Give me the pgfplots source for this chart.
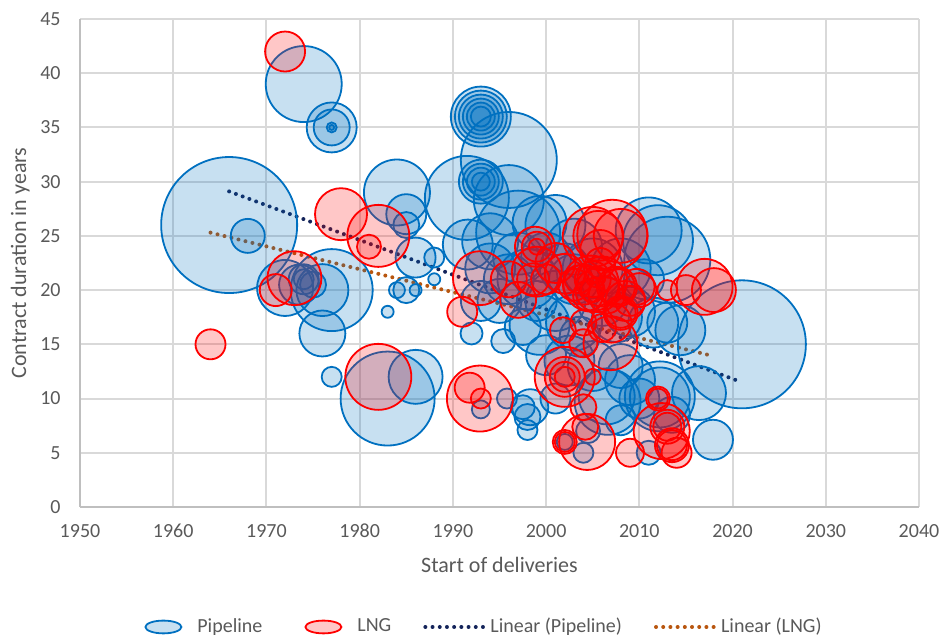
\documentclass[border=0pt]{standalone}
\usepackage{fontspec}
\setmainfont{Carlito}
\usepackage{pgfplots}
\pgfplotsset{compat=1.18}
\usepackage{pgfplotstable}
\definecolor{pipeedge}{HTML}{0070C0}
\definecolor{lngedge}{HTML}{FF0000}
\definecolor{trendpipe}{HTML}{14245A}
\definecolor{trendlng}{HTML}{B8560F}
\definecolor{txt}{HTML}{595959}
\definecolor{gridc}{HTML}{D9D9D9}
\definecolor{axc}{HTML}{BFBFBF}

\pgfplotstableread{
x y r
1966 26 68
1968 25 17
1974 39 38
1977 35 25
1977 35 18
1977 35 5
1977 35 2.5
1972 20.2 28
1973.5 20.5 20
1974 21 15
1974 21 10
1975 20.5 13
1977 20 41
1976 20 26
1976 16 23
1977 12 10
1983 10 47
1986 12 27
1984 29 33
1985 27 20
1985 26 13
1986 23 20
1988 23 10
1988 21 6
1983 18 6
1984 20 8
1985 20 13
1986 20 6
1991.5 28.5 42
1993 30 22
1993 30 18
1993 30 14
1993 30 9
1993 36 30
1993 36 26
1993 36 22
1993 36 18
1993 36 14
1993 36 10
1996 32 48
1996 28.3 35
1997 25.3 42
1994 24.5 28
1991.6 24.2 25
1999.3 26.2 27
2001 26 30
2003 24 28
2000 23 25
1997 23 25
1994 22 25
1998 21 30
1996 21 25
1995 19 22
1993 19 20
1999 19 20
2002 22 25
2001 19 30
2003 21 25
2005 22 30
2006 19 25
2008 22 30
2009 18 25
2010.5 21 20
2011 25.5 33
2012 24.6 35
2013 22.8 43
2011.5 17 25
2013 17 20
2014.4 16.3 25
2007.6 17.5 25
2003 17 28
2003.6 15.7 20
1999.3 16.8 30
1997.5 16.6 18
1995.4 15.3 12
1992 16 11
2000 14 20
2002.5 13.5 25
2005 13 25
2008 13 22
2009 11.7 25
2006.6 9.7 33
2006.5 10.2 28
2010 10 20
2012.2 10.1 30
2012.2 10.2 35
2008 8 15
2013.5 8.5 18
2016.4 10.5 27
2017.9 6.2 20
2011 5 12
2004.5 7 12
2004 5 10
2002 6 8
2001 10 15
1998.3 9.2 18
1997.5 9.2 12
1998 8.3 13
1998 7.1 10
1995.8 10 10
1993 9 9
2021 15 64
}\pipeline

\pgfplotstableread{
x y r
1972 42 20
1978 27 26
1982 25 31
1981 24 12
1971 20 16
1973 21.1 27
1964 15 15
1982 12 33
1991 18 15
1992.9 21.1 27
1996 21 18
1997 19.1 18
1998.6 21 16
1999 21.7 25
1998.8 24 20
1999 24 15
1999 24 8
2000 21 15
2001 22.5 20
2002 21.5 20
2003 20.5 16
2003.5 21 14
2004 20.5 20
2004.8 20.6 28
2005 21 18
2005 20 12
2005.3 21.2 10
2005.5 20 22
2006 20.8 25
2006.5 19.5 18
2004.5 19.5 15
2007.6 20.3 20
2007.6 20.3 18
2008.5 19 20
2009.7 20.3 18
2010 20 17
2009 19 15
2008 17.9 17
2008 17.9 15
2007 17 20
2006 16.5 14
2004 17 13
2005.8 22.5 15
2005.8 23.7 20
2005 24.9 30
2005.6 25 25
2007.1 25.1 35
2008 25 27
2001.8 16.3 13
2004 15.1 14
2006.9 15.1 27
2002 12 30
2002 12 20
2002 12 15
2002 12 10
2005 12 8
1992.9 10 33
1991.8 11 15
1993 10 10
2004.4 6 28
2004.2 7.4 13
2004 9.2 13
2002 6 12
2002 6 10
2009 5 14
2012.4 7 28
2013 7.4 17
2013 7.4 14
2013.5 5.7 17
2013.5 5.7 15
2014 5 15
2012 10 12
2012 10 10
2013 20 10
2015 20 15
2017 20.3 28
2018 20 22
}\lng

\begin{document}
\begin{tikzpicture}
\begin{axis}[
  scale only axis,
  width=419.5pt, height=244pt,
  xmin=1950, xmax=2040, ymin=0, ymax=45,
  xtick distance=10, ytick distance=5,
  axis lines=left,
  axis line style={draw=axc, line width=1pt, -},
  grid=major,
  grid style={draw=gridc, line width=1pt},
  major tick length=0pt,
  tick style={draw=none},
  /pgf/number format/assume math mode=true,
  /pgf/number format/set thousands separator={},
  ticklabel style={font=\fontsize{10}{12}\selectfont, text=txt},
  xticklabel style={anchor=base, inner sep=0pt, yshift=-15.5pt},
  yticklabel style={anchor=east, inner sep=0pt, xshift=-9.5pt},
  xlabel={Start of deliveries},
  ylabel={Contract duration in years},
  every axis x label/.style={at={(axis description cs:0.5,0)}, anchor=base, yshift=-33pt,
    font=\fontsize{11}{13}\selectfont, text=txt},
  every axis y label/.style={at={(axis description cs:0,0.5)}, xshift=-25pt, rotate=90, anchor=south, inner sep=0pt,
    font=\fontsize{11}{13}\selectfont, text=txt},
  legend columns=4,
  legend style={draw=none, fill=none, inner sep=0pt,
    at={(axis description cs:0,0)}, anchor=west, xshift=27pt, yshift=-60pt,
    font=\fontsize{10}{12}\selectfont, text=txt,
    nodes={inner sep=0pt},
    /tikz/every odd column/.append style={column sep=2.5pt},
    /tikz/every even column/.append style={column sep=16pt}},
  legend cell align=left,
]
\addplot[scatter, only marks, mark=*, line width=0.9pt,
  scatter/use mapped color={draw=pipeedge, fill=pipeedge, fill opacity=0.22},
  visualization depends on={0.5*\thisrow{r} \as \rad},
  scatter/@pre marker code/.append style={/tikz/mark size=\rad},
  legend image code/.code={\path[draw=none, fill=none] (0pt,0pt) (29pt,0pt);\draw[draw=pipeedge, fill=pipeedge, fill opacity=0.22, line width=0.9pt] (14.5pt,0pt) ellipse (9pt and 3.2pt);}
  ] table[x=x, y=y] {\pipeline};
\addlegendentry{Pipeline}
\addplot[scatter, only marks, mark=*, line width=0.9pt,
  scatter/use mapped color={draw=lngedge, fill=lngedge, fill opacity=0.22},
  visualization depends on={0.5*\thisrow{r} \as \rad},
  scatter/@pre marker code/.append style={/tikz/mark size=\rad},
  legend image code/.code={\path[draw=none, fill=none] (0pt,0pt) (29pt,0pt);\draw[draw=lngedge, fill=lngedge, fill opacity=0.22, line width=0.9pt] (14.5pt,0pt) ellipse (9pt and 3.2pt);}
  ] table[x=x, y=y] {\lng};
\addlegendentry{LNG}
\addplot[trendpipe, line width=2pt, line cap=round, dash pattern=on 0pt off 3.6pt,
  legend image code/.code={\draw[trendpipe, line width=2pt, line cap=round, dash pattern=on 0pt off 3.6pt] (0pt,0pt) -- (29pt,0pt);}]
  coordinates {(1966,29.1) (2021,11.5)};
\addlegendentry{Linear (Pipeline)}
\addplot[trendlng, line width=2pt, line cap=round, dash pattern=on 0pt off 3.6pt,
  legend image code/.code={\draw[trendlng, line width=2pt, line cap=round, dash pattern=on 0pt off 3.6pt] (0pt,0pt) -- (29pt,0pt);}]
  coordinates {(1964,25.3) (2018,13.9)};
\addlegendentry{Linear (LNG)}
\end{axis}
\pgfresetboundingbox
\path ([shift={(-40pt,-64pt)}]current axis.south west) rectangle ([shift={(10pt,9.5pt)}]current axis.north east);
\end{tikzpicture}
\end{document}
